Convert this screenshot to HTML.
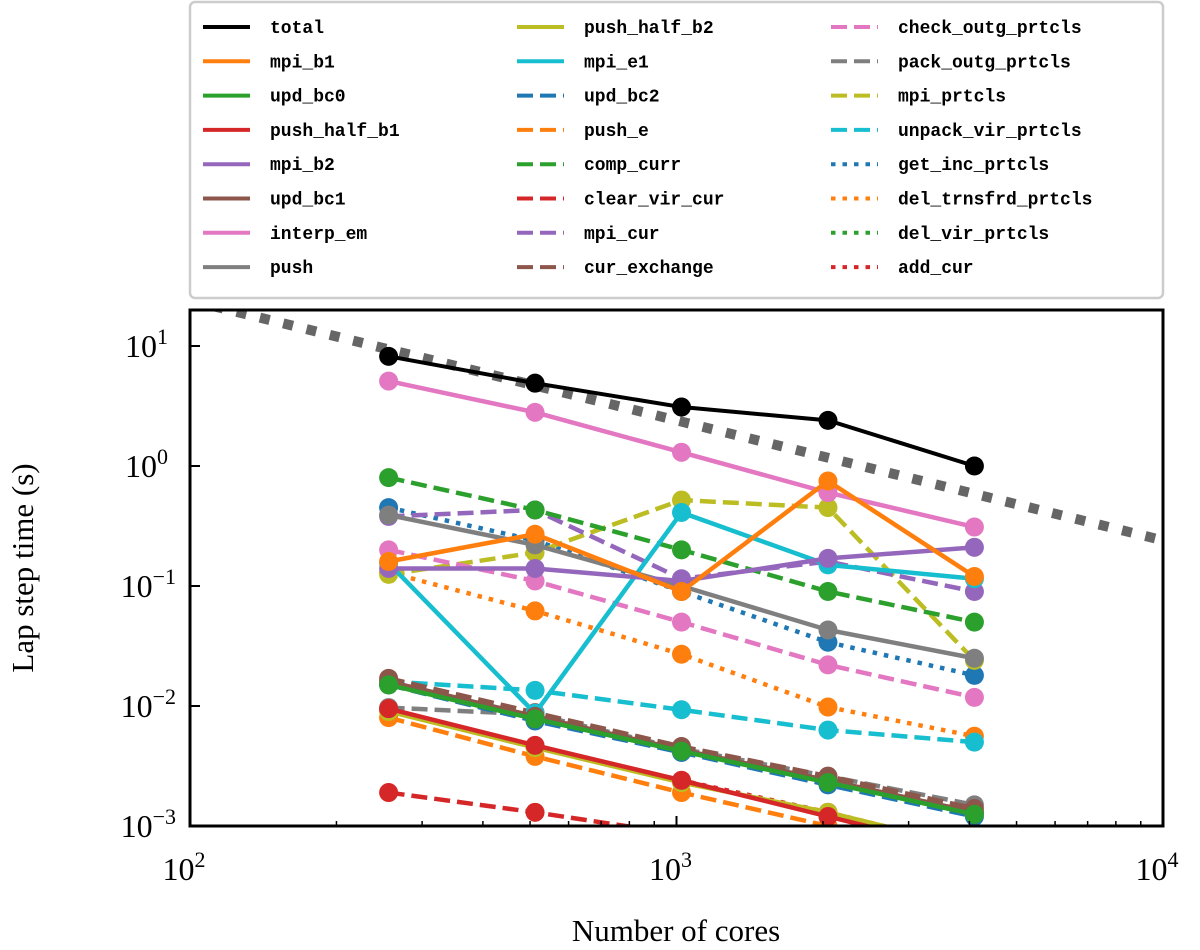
<!DOCTYPE html>
<html><head><meta charset="utf-8"><style>
html,body{margin:0;padding:0;background:#fff;}
svg{display:block;}
</style></head><body>
<svg id="chart" width="1200" height="950" viewBox="0 0 1200 950" xmlns="http://www.w3.org/2000/svg">
<defs><clipPath id="plotclip"><rect x="190" y="310" width="973" height="516"/></clipPath></defs>
<g id="plot" clip-path="url(#plotclip)"></g>
<rect x="190" y="310" width="973" height="516" fill="none" stroke="#000" stroke-width="3"/>
<g id="axes"></g>
<text x="33" y="568" transform="rotate(-90 33 568)" text-anchor="middle" font-family="Liberation Serif, serif" font-size="31">Lap step time (s)</text>
<text x="676" y="941" text-anchor="middle" font-family="Liberation Serif, serif" font-size="31">Number of cores</text>
<g id="legend"></g>
</svg>
<script>
const cores = [256, 512, 1024, 2048, 4096];
const seriesNames = ["total","mpi_b1","upd_bc0","push_half_b1","mpi_b2","upd_bc1","interp_em","push","push_half_b2","mpi_e1",
 "upd_bc2","push_e","comp_curr","clear_vir_cur","mpi_cur","cur_exchange","check_outg_prtcls","pack_outg_prtcls","mpi_prtcls","unpack_vir_prtcls",
 "get_inc_prtcls","del_trnsfrd_prtcls","del_vir_prtcls","add_cur"];
const total = [8.2, 4.9, 3.1, 2.4, 1.0];
const mpi_b1 = [0.16, 0.27, 0.09, 0.75, 0.12];
const upd_bc0 = [0.015, 0.0078, 0.0042, 0.0023, 0.00125];
const push_half_b1 = [0.0095, 0.0047, 0.0024, 0.0012, 0.0006];
const mpi_b2 = [0.14, 0.14, 0.11, 0.17, 0.21];
const upd_bc1 = [0.016, 0.0082, 0.0043, 0.0024, 0.0013];
const interp_em = [5.1, 2.8, 1.3, 0.6, 0.31];
const push = [0.39, 0.22, 0.1, 0.043, 0.025];
const push_half_b2 = [0.009, 0.0045, 0.0023, 0.0013, 0.00065];
const mpi_e1 = [0.155, 0.0087, 0.41, 0.15, 0.115];
const upd_bc2 = [0.015, 0.0075, 0.0041, 0.0022, 0.0012];
const push_e = [0.008, 0.0038, 0.0019, 0.001, 0.0005];
const comp_curr = [0.8, 0.43, 0.2, 0.09, 0.05];
const clear_vir_cur = [0.0019, 0.0013, 0.00085, 0.0006, 0.0004];
const mpi_cur = [0.38, 0.43, 0.115, 0.16, 0.09];
const cur_exchange = [0.017, 0.0088, 0.0046, 0.0026, 0.0014];
const check_outg_prtcls = [0.2, 0.11, 0.05, 0.022, 0.0118];
const pack_outg_prtcls = [0.0097, 0.0085, 0.0044, 0.0026, 0.0015];
const mpi_prtcls = [0.125, 0.19, 0.52, 0.45, 0.024];
const unpack_vir_prtcls = [0.016, 0.0135, 0.0093, 0.0063, 0.005];
const get_inc_prtcls = [0.45, 0.24, 0.09, 0.034, 0.018];
const del_trnsfrd_prtcls = [0.13, 0.062, 0.027, 0.0098, 0.0056];
const del_vir_prtcls = [0.015, 0.0077, 0.0042, 0.0023, 0.0013];
const add_cur = [0.0092, 0.0046, 0.0024, 0.0013, 0.00065];
const seriesValues = [total,mpi_b1,upd_bc0,push_half_b1,mpi_b2,upd_bc1,interp_em,push,push_half_b2,mpi_e1,
 upd_bc2,push_e,comp_curr,clear_vir_cur,mpi_cur,cur_exchange,check_outg_prtcls,pack_outg_prtcls,mpi_prtcls,unpack_vir_prtcls,
 get_inc_prtcls,del_trnsfrd_prtcls,del_vir_prtcls,add_cur];
const idealRef = [100, 10000];
const idealCoef = 2400;
const xTickExps = [2, 3, 4];
const yTickExps = [-3, -2, -1, 0, 1];

const NS = "http://www.w3.org/2000/svg";
const X0=190, X1=1163, Y0=310, Y1=826;
function xs(v){ return X0 + (Math.log10(v) - 2) / 2 * (X1 - X0); }
function ys(v){ return 826 - (Math.log10(v) + 3) * 120; }
function mk(tag, attrs, parent){ const e=document.createElementNS(NS,tag); for(const k in attrs) e.setAttribute(k, attrs[k]); parent.appendChild(e); return e; }

const colors = ["#000","#ff7f0e","#2ca02c","#d62728","#9467bd","#8c564b","#e377c2","#7f7f7f","#bcbd22","#17becf"];
function styleOf(i){
  if(i<10) return {c:colors[i], d:"none"};
  if(i<20) return {c:["#1f77b4","#ff7f0e","#2ca02c","#d62728","#9467bd","#8c564b","#e377c2","#7f7f7f","#bcbd22","#17becf"][i-10], d:"16,7"};
  return {c:["#1f77b4","#ff7f0e","#2ca02c","#d62728"][i-20], d:"4.5,7"};
}
const plot = document.getElementById("plot");
{
  const p = mk("line",{x1:xs(idealRef[0]),y1:ys(idealCoef/idealRef[0]),x2:xs(idealRef[1]),y2:ys(idealCoef/idealRef[1]),stroke:"#666","stroke-width":10,"stroke-dasharray":"10,14"},plot);
  
  
}
for(let i=seriesValues.length-1;i>=0;i--){
  const s = styleOf(i), vals = seriesValues[i];
  const g = mk("g",{},plot);
  
  
  const pts = cores.map((c,j)=>xs(c)+","+ys(vals[j])).join(" ");
  mk("polyline",{points:pts,fill:"none",stroke:s.c,"stroke-width":i===0?4:4.5,"stroke-dasharray":s.d},g);
  cores.forEach((c,j)=>{
    const m = mk("circle",{cx:xs(c),cy:ys(vals[j]),r:9.5,fill:s.c},g);
    
    
  });
}
const axes = document.getElementById("axes");
xTickExps.forEach(e=>{
  const x = xs(Math.pow(10,e));
  mk("line",{x1:x,y1:Y1,x2:x,y2:Y1-10,stroke:"#000","stroke-width":2},axes);
  const t = mk("text",{x:x-6,y:880,"text-anchor":"middle","font-family":"Liberation Serif, serif","font-size":32},axes);
  
  
  t.innerHTML = '10<tspan dy="-13" font-size="22">'+e+'</tspan>';
  if(e<4) for(let k=2;k<10;k++){ const xm = xs(k*Math.pow(10,e)); mk("line",{x1:xm,y1:Y1,x2:xm,y2:Y1-5,stroke:"#000","stroke-width":1.5},axes); }
});
yTickExps.forEach(e=>{
  const y = ys(Math.pow(10,e));
  mk("line",{x1:X0,y1:y,x2:X0+10,y2:y,stroke:"#000","stroke-width":2},axes);
  const t = mk("text",{x:e<0?176:168,y:y+11,"text-anchor":"end","font-family":"Liberation Serif, serif","font-size":32},axes);
  
  
  t.innerHTML = '10<tspan dy="-13" font-size="22">'+(e<0?'−'+(-e):e)+'</tspan>';
});
const legend = document.getElementById("legend");
mk("rect",{x:190,y:2,width:973,height:296,rx:5,fill:"#fff",stroke:"#ccc","stroke-width":2.5},legend);
seriesNames.forEach((n,i)=>{
  const col = Math.floor(i/8), row = i%8, s = styleOf(i);
  const lx = 203 + col*314, ly = 27 + row*34.3;
  const g = mk("g",{},legend);
  
  
  mk("line",{x1:lx,y1:ly,x2:lx+47,y2:ly,stroke:s.c,"stroke-width":4,"stroke-dasharray":s.d},g);
  const t = mk("text",{x:lx+67,y:ly+6,"font-family":"Liberation Mono, monospace","font-size":18,"font-weight":"bold"},g);
  t.textContent = n;
});
</script>
</body></html>
